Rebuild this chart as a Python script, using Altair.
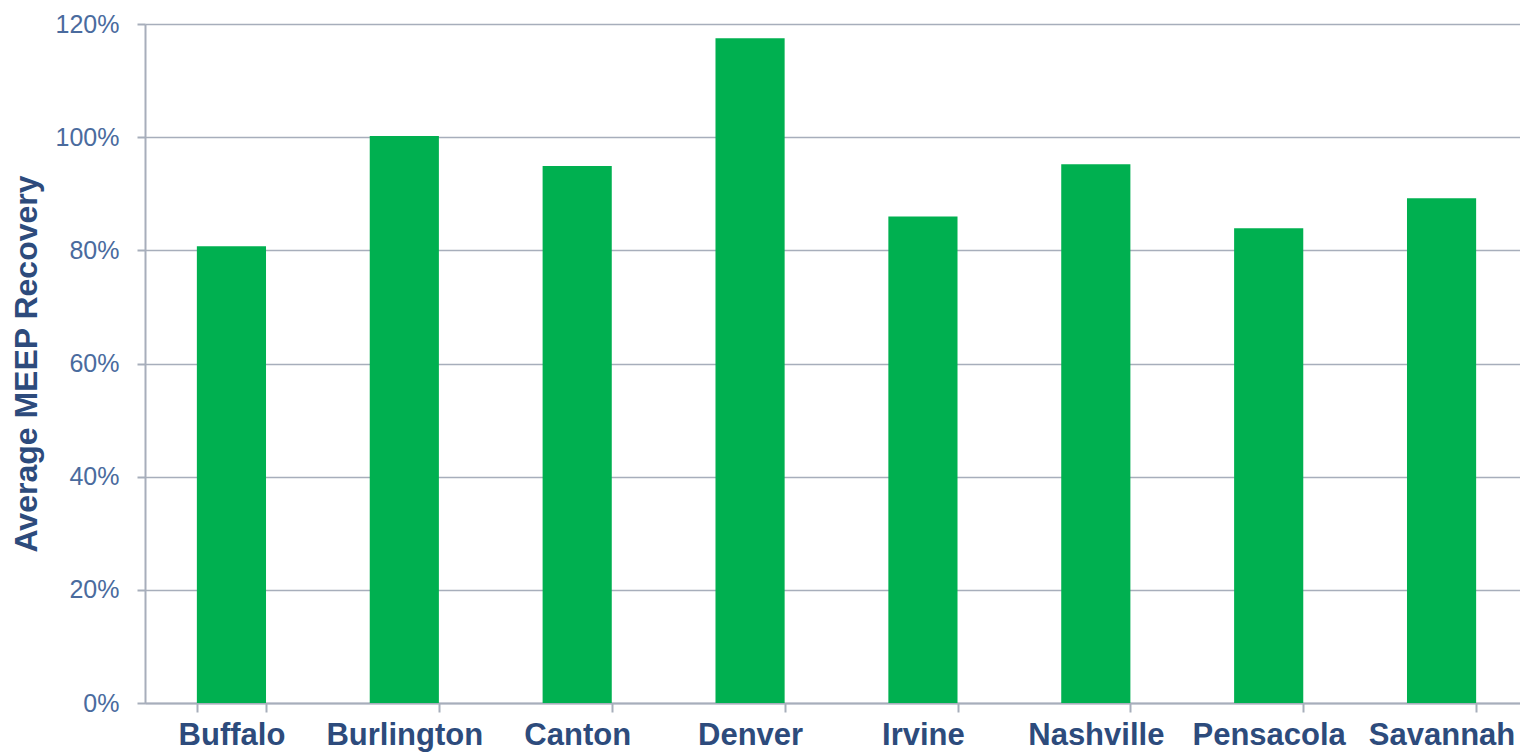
import altair as alt
import pandas as pd

cities = ["Buffalo", "Burlington", "Canton", "Denver", "Irvine",
          "Nashville", "Pensacola", "Savannah"]
recovery = [0.807, 1.002, 0.949, 1.175, 0.860, 0.952, 0.839, 0.892]

df = pd.DataFrame({"City": cities, "Recovery": recovery})

grid_color = "#a7aebb"
label_blue = "#4a6b9e"
dark_blue = "#2d4b7c"

bars = alt.Chart(df).mark_bar(color="#00b050").encode(
    x=alt.X(
        "City:N",
        sort=cities,
        scale=alt.Scale(paddingInner=0.6, paddingOuter=0.3, range=[0, 1383]),
        axis=alt.Axis(
            title=None,
            labelAngle=0,
            labelFont="Liberation Sans",
            labelFontSize=31,
            labelFontWeight="bold",
            labelColor=dark_blue,
            labelPadding=8,
            tickBand="extent",
            tickSize=9,
            tickColor=grid_color,
            tickWidth=2,
            domainColor=grid_color,
            domainWidth=2,
            grid=False,
        ),
    ),
    y=alt.Y(
        "Recovery:Q",
        scale=alt.Scale(domain=[0, 1.2], nice=False),
        axis=alt.Axis(
            title="Average MEEP Recovery",
            titleFont="Liberation Sans",
            titleFontSize=32,
            titleFontWeight="bold",
            titleColor=dark_blue,
            titlePadding=12,
            format=".0%",
            values=[0, 0.2, 0.4, 0.6, 0.8, 1.0, 1.2],
            labelFont="Liberation Sans",
            labelFontSize=25,
            labelColor=label_blue,
            labelPadding=18,
            tickSize=8,
            tickColor=grid_color,
            tickWidth=2,
            domainColor=grid_color,
            domainWidth=2,
            grid=True,
            gridColor=grid_color,
            gridWidth=1.5,
        ),
    ),
)

chart = bars.properties(
    width=1375,
    height=679,
    autosize=alt.AutoSizeParams(type="none"),
    padding={"left": 145, "top": 24, "right": 0, "bottom": 52},
).configure_view(stroke=None).configure(background="white")

chart.save("out.html", embed_options={"renderer": "svg", "actions": False})
